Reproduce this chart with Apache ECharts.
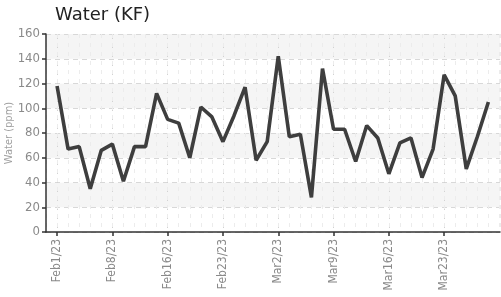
<!DOCTYPE html>
<html>
<head>
<meta charset="utf-8">
<script src="https://cdn.jsdelivr.net/npm/echarts@6/dist/echarts.min.js"></script>
<style>
html,body{margin:0;padding:0;background:#fff;}
#chart{width:501px;height:297px;}
</style>
</head>
<body>
<div id="chart"></div>
<script>
// sample dates (x categories)
const dates = ['Feb1/23','Feb2/23','Feb3/23','Feb6/23','Feb7/23','Feb8/23','Feb9/23','Feb10/23','Feb13/23','Feb14/23',
	'Feb16/23','Feb17/23','Feb20/23','Feb21/23','Feb22/23','Feb23/23','Feb24/23','Feb27/23','Feb28/23','Mar1/23',
	'Mar2/23','Mar3/23','Mar6/23','Mar7/23','Mar8/23','Mar9/23','Mar10/23','Mar13/23','Mar14/23','Mar15/23',
	'Mar16/23','Mar17/23','Mar20/23','Mar21/23','Mar22/23','Mar23/23','Mar24/23','Mar27/23','Mar28/23','Mar29/23'];
// water content, ppm
const water = [118,67,69,35,66,71,41,69,69,112,
	91,88,60,101,93,73,94,117,58,73,
	142,77,79,28,132,83,83,57,86,76,
	47,72,76,44,67,127,110,51,77,105];
// which categories get a labelled tick
const labelIdx = [0,5,10,15,20,25,30,35];
const yTicks = {min:0,max:160,step:20};

const font = "'Liberation Sans Narrow','DejaVu Sans Condensed','Roboto',sans-serif";
let myChart = echarts.init(document.getElementById('chart'));
let option = {
	animation:false,
	title:{
		text:'Water (KF)',left:50,top:1,
		textStyle:{fontFamily:'DejaVu Sans',fontSize:18,fontWeight:'normal',color:'#222'}
	},
	grid:{left:46,right:1,top:34,bottom:65,containLabel:false,outerBoundsMode:'none'},
	xAxis:[{
		type:'value',min:-1,max:40.05,
		axisLine:{show:true,onZero:false,lineStyle:{color:'#333',width:1.5}},
		axisTick:{show:true,length:4,customValues:labelIdx,lineStyle:{color:'#333',width:1.5}},
		axisLabel:{customValues:labelIdx,rotate:90,margin:7,color:'#8a8a8a',fontSize:12,fontFamily:font,
			formatter:function(v){return dates[Math.round(v)]||'';}},
		splitLine:{show:true,lineStyle:{color:'#d2d2d2',type:[5,4]}}
	},{
		// faint line at every sample
		type:'value',min:-1,max:40.05,interval:1,position:'bottom',
		axisLine:{show:false},axisTick:{show:false},axisLabel:{show:false},
		splitLine:{show:true,lineStyle:{color:'#ececec',type:[4,5]}}
	}],
	yAxis:{
		type:'value',min:yTicks.min,max:yTicks.max,interval:yTicks.step,
		name:'Water (ppm)',nameLocation:'middle',nameGap:31,nameMoveOverlap:false,
		nameTextStyle:{color:'#a0a0a0',fontSize:11,fontFamily:'DejaVu Sans Condensed, DejaVu Sans'},
		axisLine:{show:true,onZero:false,lineStyle:{color:'#333',width:1.5}},
		axisTick:{show:true,length:4,lineStyle:{color:'#333',width:1.5}},
		axisLabel:{color:'#8a8a8a',fontSize:13,fontFamily:font,margin:6},
		splitLine:{show:true,lineStyle:{color:'#d8d8d8',type:[5,4]}},
		splitArea:{show:true,areaStyle:{color:['#ffffff','#f5f5f5']}}
	},
	series:[{
		type:'line',
		xAxisIndex:0,
		showSymbol:false,
		data:water.map(function(v,i){return [i,v];}),
		lineStyle:{color:'#3e3e3e',width:3.6},
		itemStyle:{color:'#3e3e3e'}
	}]
};
myChart.setOption(option);
</script>
</body>
</html>
